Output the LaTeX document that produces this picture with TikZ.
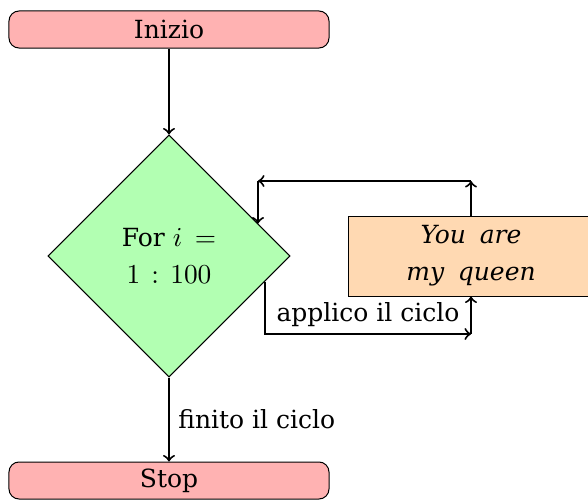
\documentclass[tikz,border=0pt]{standalone}
\usepackage{fontspec}
\setmainfont{DejaVu Serif}
\usetikzlibrary{shapes.geometric}
\begin{document}
\begin{tikzpicture}[x=0.4pt,y=-0.4pt,
  startstop/.style={rectangle, rounded corners=4pt, draw, fill=red!30,
    minimum width=128pt, minimum height=14.8pt, inner sep=0pt},
  decision/.style={diamond, draw, fill=green!30, minimum width=96.8pt,
    minimum height=96.8pt, inner sep=0pt, align=center},
  process/.style={rectangle, draw, fill=orange!30, minimum width=97.6pt,
    minimum height=32pt, align=center, font=\itshape},
  flow/.style={->, thick}]
\path[use as bounding box, clip] (0,0) rectangle (588,500);

% nodes
\node[decision] (dia) at (169,256)
  {For {\fontsize{11}{13}\selectfont$i$\hspace{5pt}$=$}\\[2.8pt]
   {\fontsize{11}{13}\selectfont$1$\hspace{4.5pt}$\colon$\hspace{4.5pt}$100$}};
\node[startstop] (start) at (169,29.5) {Inizio};
\node[process] (body) at (471,256) {You\hspace{0.55em}are\\[2.8pt] my\hspace{0.55em}queen};
\node[startstop] (stop) at (169,480.5) {Stop};

% main flow
\draw[flow] (start.south) -- (dia.north);
\draw[flow] (dia.south) -- node[right]{finito il ciclo} (stop.north);

% loop into the body
\coordinate (bl) at (265,334);
\coordinate (br) at (471,334);
\draw[flow] (bl |- dia.-15) -- (bl) -- node[above, inner sep=2.5pt]{applico il ciclo} (br);
\draw[flow] (br) -- (body.south);

% loop back to the test
\coordinate (tr) at (471,181);
\coordinate (tl) at (258,181);
\draw[flow] (body.north) -- (tr);
\draw[flow] (tr) -- (tl);
\draw[flow] (tl) -- (tl |- dia.20);
\end{tikzpicture}
\end{document}
